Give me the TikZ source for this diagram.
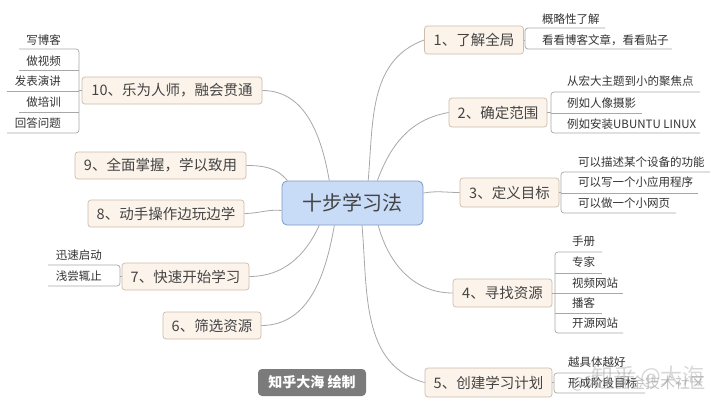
\documentclass[tikz,border=0pt]{standalone}
\usepackage{fontspec}
\setmainfont{Noto Sans CJK SC}
\definecolor{cfill}{HTML}{C8DBF7}
\definecolor{cbord}{HTML}{7E9CC6}
\definecolor{bfill}{HTML}{FCF3EA}
\definecolor{bbord}{HTML}{CDBDAE}
\definecolor{txt}{HTML}{444444}
\definecolor{itxt}{HTML}{333333}
\definecolor{lcol}{HTML}{A8A8A8}
\definecolor{wmfill}{HTML}{7B7B7B}
\tikzset{
  central/.style={draw=cbord, fill=cfill, rounded corners=5, line width=0.8, minimum width=141, minimum height=44, inner sep=0, font=\fontsize{20}{24}\selectfont, text=txt},
  branch/.style={draw=bbord, fill=bfill, rounded corners=3, line width=0.7, minimum height=28, inner sep=0, font=\fontsize{14.5}{17}\selectfont, text=txt},
  item/.style={font=\fontsize{11.5}{13}\selectfont, text=itxt, inner sep=0},
  link/.style={draw=lcol, line width=0.8},
  brk/.style={draw=lcol, line width=0.7, rounded corners=3},
  stamp/.style={fill=wmfill, rounded corners=4, minimum width=108, minimum height=27, inner sep=0, text=white, font=\bfseries\fontsize{14}{16}\selectfont},
  wmark/.style={text=gray, opacity=0.35, inner sep=0}
}
\begin{document}
\begin{tikzpicture}[x=1pt,y=-1pt]
\useasboundingbox[fill=white] (0,0) rectangle (720,407);
% central
\node[central] (c) at (352.5,203) {十步学习法};
% branches
\node[branch, minimum width=99] (n1) at (474,40) {1、了解全局};
\node[branch, minimum width=98, minimum height=29] (n2) at (498,112.5) {2、确定范围};
\node[branch, minimum width=99, minimum height=29] (n3) at (509.5,192.5) {3、定义目标};
\node[branch, minimum width=99] (n4) at (502.5,293) {4、寻找资源};
\node[branch, minimum width=127, minimum height=29] (n5) at (488.5,382.5) {5、创建学习计划};
\node[branch, minimum width=98, minimum height=27] (n6) at (212,325.5) {6、筛选资源};
\node[branch, minimum width=127, minimum height=27] (n7) at (185.5,276.5) {7、快速开始学习};
\node[branch, minimum width=156, minimum height=27] (n8) at (166,213.5) {8、动手操作边玩边学};
\node[branch, minimum width=171, minimum height=27] (n9) at (160.5,165.5) {9、全面掌握，学以致用};
\node[branch, minimum width=180, minimum height=27] (n10) at (172,90.5) {10、乐为人师，融会贯通};
% main connectors
\draw[link] (c.55) to[out=85, in=200] (n1.west);
\draw[link] (c.42) to[out=70, in=190] (n2.west);
\draw[link] (c.8) to[out=10, in=180] (n3.west);
\draw[link] (c.319) to[out=-75, in=180] (n4.west);
\draw[link] (c.293) to[out=-85, in=165] (n5.west);
\draw[link] (c.231) to[out=-100, in=0] (n6.east);
\draw[link] (c.214) to[out=-115, in=0] (n7.east);
\draw[link] (c.186) to[out=175, in=0] (n8.east);
\draw[link] (c.161) to[out=130, in=0] (n9.east);
\draw[link] (c.136) to[out=100, in=0] (n10.east);
% branch 1 items
\node[item, anchor=west] (a1) at (542,19) {概略性了解};
\node[item, anchor=west] (a2) at (542,40) {看看博客文章，看看贴子};
\coordinate (b1) at (525,40);
\draw[link] (n1.east) -- (b1);
\draw[brk] (605,28) -- (525,28) -- (525,49) -- (672,49);
% branch 2 items
\node[item, anchor=west] (b2a) at (567,81) {从宏大主题到小的聚焦点};
\node[item, anchor=west] (b2b) at (567,103) {例如人像摄影};
\node[item, anchor=west] (b2c) at (567,124) {例如安装UBUNTU LINUX};
\coordinate (b2) at (551,112.5);
\draw[link] (n2.east) -- (b2);
\draw[brk] (700,92) -- (551,92) -- (551,133) -- (700,133);
\draw[brk] (551,113) -- (642,113);
% branch 3 items
\node[item, anchor=west] (b3a) at (578,162) {可以描述某个设备的功能};
\node[item, anchor=west] (b3b) at (578,182) {可以写一个小应用程序};
\node[item, anchor=west] (b3c) at (578,203) {可以做一个小网页};
\coordinate (b3) at (561,192.5);
\draw[link] (n3.east) -- (b3);
\draw[brk] (710,172) -- (561,172) -- (561,213) -- (676,213);
\draw[brk] (561,193) -- (698,193);
% branch 4 items
\node[item, anchor=west] (b4a) at (572,241) {手册};
\node[item, anchor=west] (b4b) at (572,262) {专家};
\node[item, anchor=west] (b4c) at (572,283) {视频网站};
\node[item, anchor=west] (b4d) at (572,303) {播客};
\node[item, anchor=west] (b4e) at (572,323) {开源网站};
\coordinate (b4) at (555,293);
\draw[link] (n4.east) -- (b4);
\draw[brk] (602,252) -- (555,252) -- (555,333) -- (623,333);
\draw[brk] (555,273) -- (602,273);
\draw[brk] (555,293) -- (623,293);
\draw[brk] (555,313) -- (602,313);
% branch 5 items
\node[item, anchor=west] (b5a) at (568,362) {越具体越好};
\node[item, anchor=west] (b5b) at (568,383) {形成阶段目标};
\coordinate (b5) at (554,382.5);
\draw[link] (n5.east) -- (b5);
\draw[brk] (635,373) -- (554,373) -- (554,393) -- (645,393);
% branch 7 items
\node[item, anchor=east] (b7a) at (102,255) {迅速启动};
\node[item, anchor=east] (b7b) at (102,276) {浅尝辄止};
\coordinate (b7) at (120,276.5);
\draw[link] (n7.west) -- (b7);
\draw[brk] (48,265) -- (120,265) -- (120,286) -- (48,286);
% branch 10 items
\node[item, anchor=east] (t1) at (61,40) {写博客};
\node[item, anchor=east] (t2) at (61,61) {做视频};
\node[item, anchor=east] (t3) at (61,81) {发表演讲};
\node[item, anchor=east] (t4) at (61,102) {做培训};
\node[item, anchor=east] (t5) at (61,123) {回答问题};
\coordinate (b10) at (79,90.5);
\draw[link] (n10.west) -- (b10);
\draw[brk] (19,49) -- (79,49) -- (79,133) -- (7,133);
\draw[brk] (19,70) -- (79,70);
\draw[brk] (7,91) -- (79,91);
\draw[brk] (19,112) -- (79,112);
% stamp
\node[stamp] (wm) at (312,382.5) {知乎大海 绘制};
% watermarks
\node[wmark, opacity=0.3, font=\fontsize{22}{24}\selectfont] (wk1) at (648,377) {知乎 @大海};
\node[wmark, opacity=0.45, font=\fontsize{15}{17}\selectfont] (wk2) at (638,383) {@稀土掘金技术社区};
\end{tikzpicture}
\end{document}
